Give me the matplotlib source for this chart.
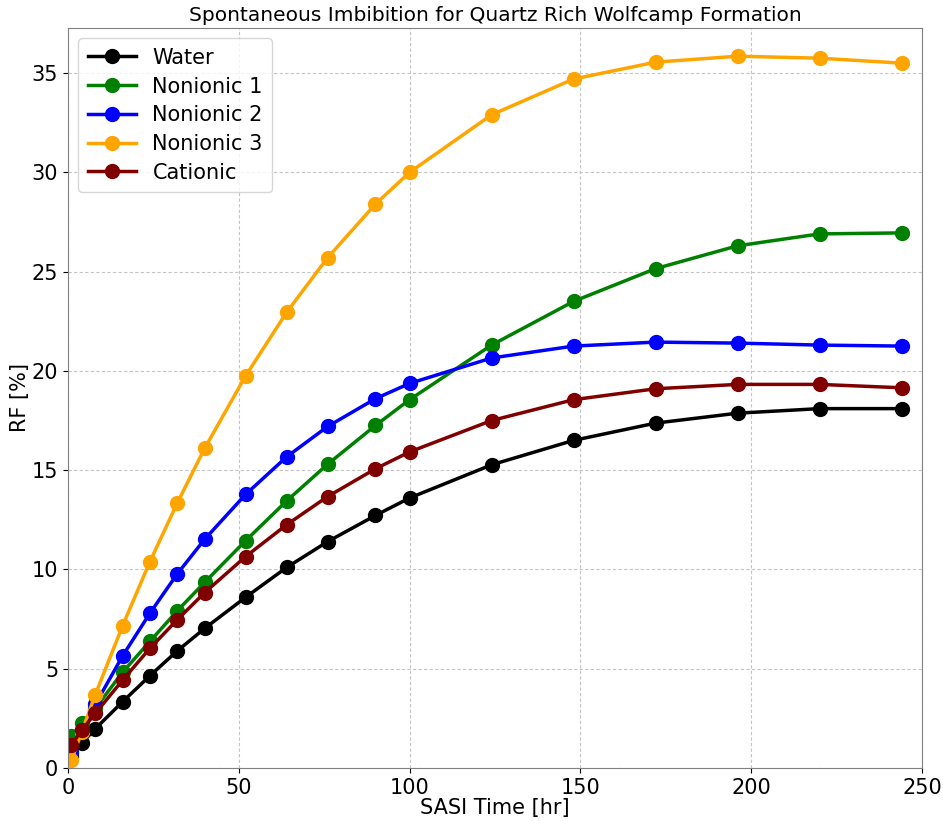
import numpy as np
import matplotlib.pyplot as plt

time_hr = [1, 4, 8, 16, 24, 32, 40, 52, 64, 76, 90, 100, 124, 148, 172, 196, 220, 244]

water = [0.6, 1.25, 1.98, 3.34, 4.65, 5.9, 7.03, 8.6, 10.1, 11.4, 12.72, 13.6,
         15.27, 16.5, 17.37, 17.87, 18.1, 18.1]
nonionic1 = [1.6, 2.26, 3.0, 4.83, 6.38, 7.92, 9.35, 11.45, 13.45, 15.3, 17.25,
             18.55, 21.3, 23.5, 25.15, 26.3, 26.9, 26.95]
nonionic2 = [0.8, 1.9, 3.2, 5.65, 7.8, 9.78, 11.52, 13.78, 15.67, 17.2, 18.6,
             19.37, 20.65, 21.25, 21.45, 21.4, 21.3, 21.25]
nonionic3 = [0.4, 1.8, 3.7, 7.17, 10.4, 13.35, 16.1, 19.75, 22.95, 25.7, 28.4,
             30.0, 32.9, 34.7, 35.55, 35.85, 35.75, 35.5]
cationic = [1.15, 1.9, 2.75, 4.43, 6.03, 7.47, 8.83, 10.65, 12.25, 13.67, 15.07,
            15.92, 17.5, 18.55, 19.1, 19.32, 19.32, 19.15]

series = [
    ('Water', water, 'black'),
    ('Nonionic 1', nonionic1, 'green'),
    ('Nonionic 2', nonionic2, 'blue'),
    ('Nonionic 3', nonionic3, 'orange'),
    ('Cationic', cationic, 'maroon'),
]

fig = plt.figure(figsize=(9.43, 8.21), dpi=100)
ax = fig.add_axes([68 / 943, 1 - 768 / 821, (922 - 68) / 943, (768 - 28) / 821])

for name, vals, col in series:
    ax.plot(time_hr, vals, '-o', color=col, lw=2.5, ms=10, label=name)

ax.set_xlim(0, 250)
ax.set_ylim(0, 37.27)
ax.set_xticks(np.arange(0, 251, 50))
ax.set_yticks(np.arange(0, 36, 5))
ax.tick_params(labelsize=15)
ax.grid(True, linestyle=(0, (3, 2)), color='#c4c4c4', linewidth=0.8)
ax.set_axisbelow(True)
ax.set_xlabel('SASI Time [hr]', fontsize=15, labelpad=0)
ax.set_ylabel('RF [%]', fontsize=15)
ax.yaxis.set_label_coords(-0.045, 0.5)
ax.set_title('Spontaneous Imbibition for Quartz Rich Wolfcamp Formation', fontsize=14.5, pad=5)
for s in ax.spines.values():
    s.set_color('#808080')
ax.legend(loc='upper left', fontsize=15, handlelength=2.3, borderpad=0.45,
          labelspacing=0.42)

fig.savefig('out.png', dpi=100)
